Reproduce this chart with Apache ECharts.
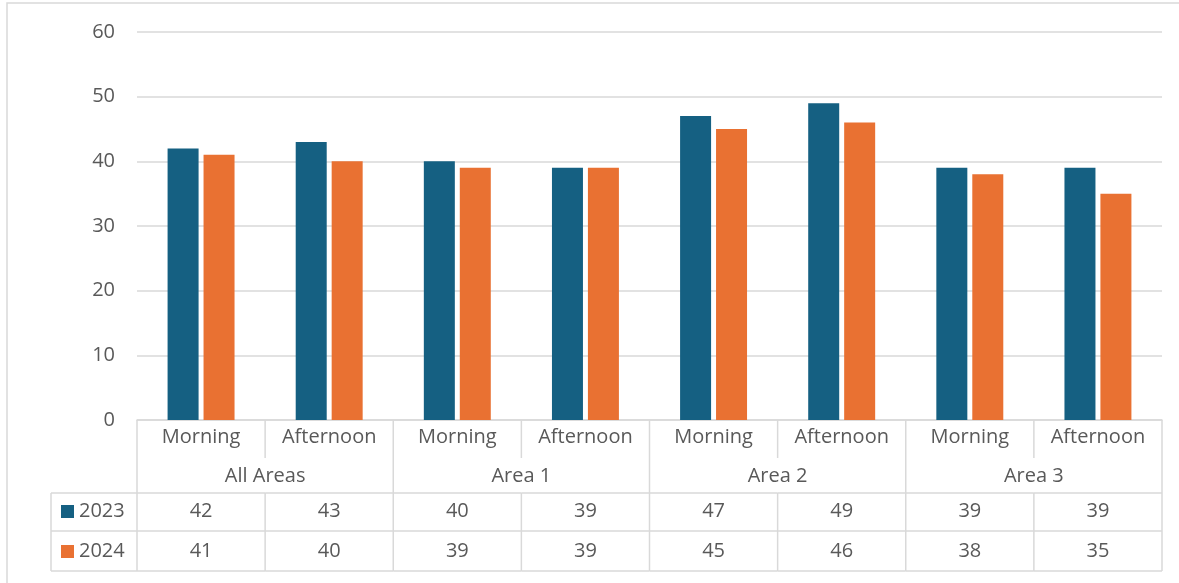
<!DOCTYPE html>
<html>
<head>
<meta charset="utf-8">
<script src="https://cdn.jsdelivr.net/npm/echarts@6/dist/echarts.min.js"></script>
<style>
  html, body { margin: 0; padding: 0; background: #ffffff; }
  #chart { width: 1179px; height: 583px; }
</style>
</head>
<body>
<div id="chart"></div>
<script>
// Survey counts by area and time of day, compared across two years
const categories = ['Morning', 'Afternoon', 'Morning', 'Afternoon', 'Morning', 'Afternoon', 'Morning', 'Afternoon'];
const groups = ['All Areas', 'Area 1', 'Area 2', 'Area 3'];
const seriesNames = ['2023', '2024'];
const values2023 = [42, 43, 40, 39, 47, 49, 39, 39];
const values2024 = [41, 40, 39, 39, 45, 46, 38, 35];
const yTicks = [0, 10, 20, 30, 40, 50, 60];

const colors = ['#156082', '#E97132'];
const textColor = '#595959';
const lineColor = '#d9d9d9';
const font = 'Open Sans';
const fontSize = 20;

// Data table under the plot: one cell column per category, drawn relative to the axis
function renderTable(params, api) {
  const i = api.value(0);
  const base = api.coord([i, 0]);
  const bw = api.size([1, 0])[0];
  const x0 = base[0] - bw / 2;
  const x1 = x0 + bw;
  const y0 = base[1];
  const rowTop = y0 + 73, rowMid = y0 + 111, rowBot = y0 + 151;
  const ls = { stroke: lineColor, lineWidth: 1.5 };
  const children = [];
  const line = (xa, ya, xb, yb) => children.push({ type: 'line', shape: { x1: xa, y1: ya, x2: xb, y2: yb }, style: ls, silent: true });
  const text = (str, x, y, align) => children.push({
    type: 'text', silent: true,
    style: { text: str, x: x, y: y, align: align || 'center', verticalAlign: 'middle', fill: textColor, font: fontSize + 'px "' + font + '"' }
  });

  // vertical dividers
  if (i % 2 === 0) {
    line(x0, y0, x0, rowBot);
    text(groups[i / 2], x1, y0 + 56);
  } else {
    line(x0, y0, x0, y0 + 38);
    line(x0, rowTop, x0, rowBot);
  }
  if (i === categories.length - 1) line(x1, y0, x1, rowBot);

  // horizontal row lines
  line(x0, rowTop, x1, rowTop);
  line(x0, rowMid, x1, rowMid);
  line(x0, rowBot, x1, rowBot);

  // values
  text(String(api.value(1)), base[0], y0 + 91);
  text(String(api.value(2)), base[0], y0 + 131);

  // legend key column on the left
  if (i === 0) {
    const lx = x0 - 86;
    line(lx, rowTop, x0, rowTop);
    line(lx, rowMid, x0, rowMid);
    line(lx, rowBot, x0, rowBot);
    line(lx, rowTop, lx, rowBot);
    [y0 + 91, y0 + 131].forEach((cy, k) => {
      children.push({ type: 'rect', silent: true, shape: { x: lx + 10, y: cy - 6, width: 13, height: 13 }, style: { fill: colors[k] } });
      text(seriesNames[k], lx + 28, cy, 'left');
    });
  }
  return { type: 'group', children: children };
}

const chart = echarts.init(document.getElementById('chart'));
chart.setOption({
  animation: false,
  backgroundColor: '#ffffff',
  graphic: [{
    type: 'rect', silent: true, z: -10,
    shape: { x: 7, y: 3, width: 1200, height: 620 },
    style: { fill: 'none', stroke: lineColor, lineWidth: 1.5 }
  }],
  grid: { left: 137, right: 17, top: 32, bottom: 163, containLabel: false },
  xAxis: {
    type: 'category',
    data: categories,
    axisLine: { show: true, lineStyle: { color: lineColor, width: 1.5 } },
    axisTick: { show: false },
    axisLabel: { interval: 0, margin: 17, verticalAlign: 'middle', color: textColor, fontFamily: font, fontSize: fontSize }
  },
  yAxis: {
    type: 'value',
    min: yTicks[0],
    max: yTicks[yTicks.length - 1],
    interval: 10,
    axisLine: { show: false },
    axisTick: { show: false },
    axisLabel: { margin: 22, color: textColor, fontFamily: font, fontSize: fontSize },
    splitLine: { lineStyle: { color: lineColor, width: 1.5 } }
  },
  series: [
    { name: seriesNames[0], type: 'bar', data: values2023, barWidth: 31, barGap: '16%', itemStyle: { color: colors[0] } },
    { name: seriesNames[1], type: 'bar', data: values2024, barWidth: 31, barGap: '16%', itemStyle: { color: colors[1] } },
    {
      type: 'custom',
      renderItem: renderTable,
      clip: false,
      silent: true,
      encode: { x: 0, y: 1 },
      data: categories.map((c, i) => [i, values2023[i], values2024[i]]),
      z: 5
    }
  ]
});
</script>
</body>
</html>
